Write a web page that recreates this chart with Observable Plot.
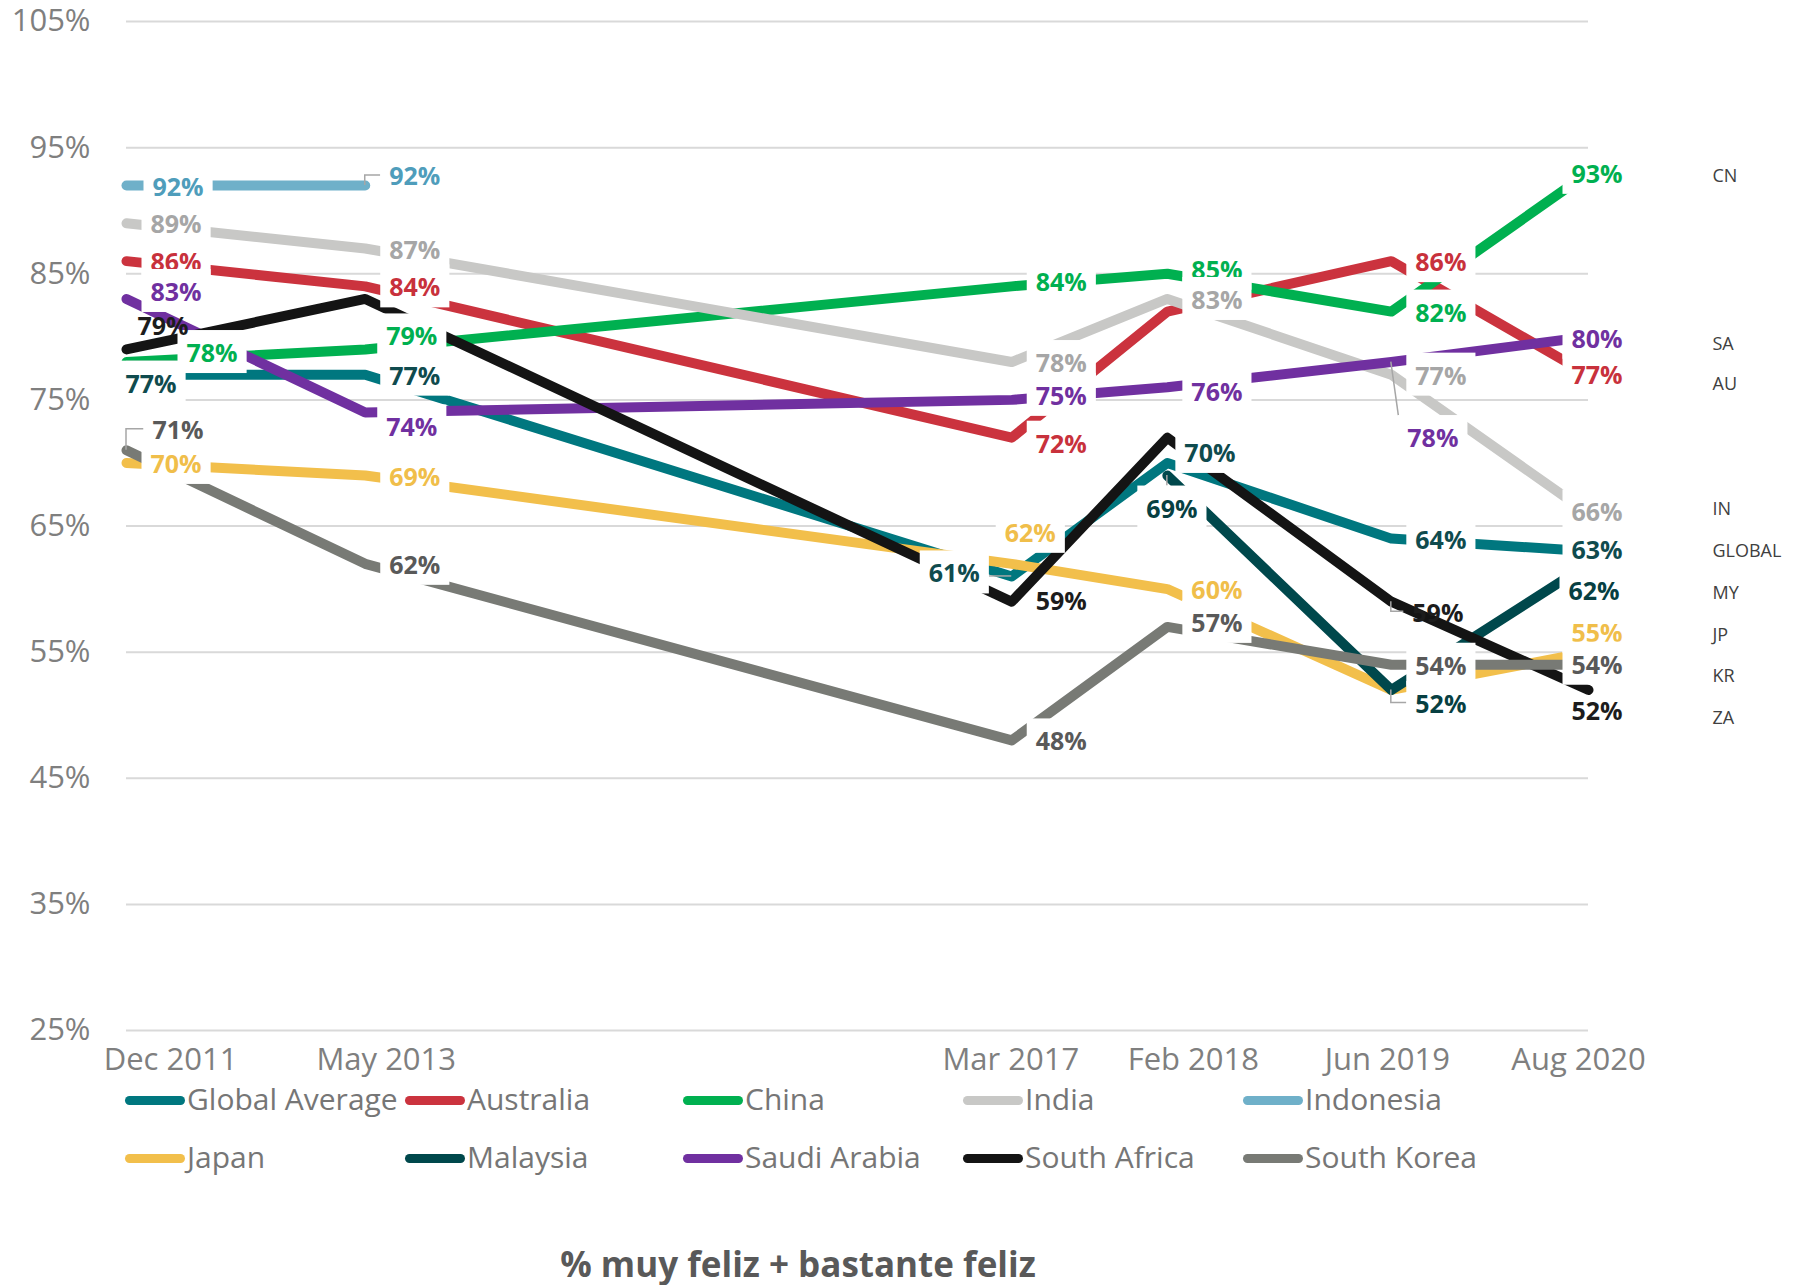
<!DOCTYPE html>
<html>
<head>
<meta charset="utf-8">
<script src="https://cdn.jsdelivr.net/npm/d3@7"></script>
<script src="https://cdn.jsdelivr.net/npm/@observablehq/plot@0.6"></script>
<style>
  html, body { margin: 0; padding: 0; background: #fff; }
  #wrap { position: relative; width: 1804px; height: 1285px; overflow: hidden; font-family: "Open Sans", sans-serif; }
  #chart { position: absolute; left: 0; top: 0; }
  #chart svg { display: block; }
  .item { position: absolute; display: flex; align-items: flex-start; font-size: 30px; color: #767676; white-space: nowrap; line-height: 41px; }
  .sw { width: 60px; height: 9px; border-radius: 5px; margin-top: 18px; margin-right: 2px; }
  #title { position: absolute; left: 0; width: 1596px; top: 1240px; text-align: center; font-size: 35px; font-weight: 700; color: #595959; }
</style>
</head>
<body>
<div id="wrap">
  <div id="chart"></div>
  <div id="legend"></div>
  <div id="title">% muy feliz + bastante feliz</div>
</div>
<script>
// ---------------- DATA ----------------
const dates = ["2011-12-01", "2013-05-01", "2017-03-01", "2018-02-01", "2019-06-01", "2020-08-01"].map(d => new Date(d));
const tickLabels = ["Dec 2011", "May 2013", "Mar 2017", "Feb 2018", "Jun 2019", "Aug 2020"];
const yTicks = [25, 35, 45, 55, 65, 75, 85, 95, 105];

const seriesNames = ["Global Average", "Australia", "China", "India", "Indonesia", "Japan", "Malaysia", "Saudi Arabia", "South Africa", "South Korea"];
const globalAverage = [77, 77, 61, 70, 64, 63];
const australia     = [86, 84, 72, 82, 86, 77];
const china         = [78, 79, 84, 85, 82, 93];
const india         = [89, 87, 78, 83, 77, 66];
const indonesia     = [92, 92, null, null, null, null];
const japan         = [70, 69, 62, 60, 52, 55];
const malaysia      = [null, null, null, 69, 52, 62];
const saudiArabia   = [83, 74, 75, 76, 78, 80];
const southAfrica   = [79, 83, 59, 72, 59, 52];
const southKorea    = [71, 62, 48, 57, 54, 54];
const seriesValues = [globalAverage, australia, china, india, indonesia, japan, malaysia, saudiArabia, southAfrica, southKorea];

const codes = ["CN", "SA", "AU", "IN", "GLOBAL", "MY", "JP", "KR", "ZA"];
const codeSeries = ["China", "Saudi Arabia", "Australia", "India", "Global Average", "Malaysia", "Japan", "South Korea", "South Africa"];

// ---------------- STYLE / LAYOUT ----------------
const lineColors  = ["#00777f", "#cb333e", "#00b050", "#c8c8c6", "#6fb0c9", "#f2bf4b", "#00484c", "#7030a0", "#141414", "#787a75"];
const labelColors = ["#0f4b4e", "#c8313c", "#00b050", "#a6a6a6", "#4f9dbb", "#f0be4a", "#073f42", "#7030a0", "#1c1c1c", "#595959"];

const LABEL_DX = 24, LABEL_DX_LAST = -17, LABEL_DY = 2;
const labelTweaks = {
  "Global Average": {0: {dx: -1, dy: 10}, 2: {dx: -83, dy: -2, leader: "straight"}, 3: {dx: 17, dy: -9}, 5: {dy: 0}},
  "Australia": {2: {dy: 7}, 3: {hide: true}, 5: {dy: 1}},
  "China": {0: {dx: 60, dy: -8, leader: "straight"}, 1: {dx: 21, dy: -12}, 2: {dy: -3}, 3: {dy: -3}},
  "India": {5: {dy: 0}},
  "Indonesia": {0: {dx: 26, dy: 3}, 1: {dy: -8, leader: "bracket"}},
  "Japan": {2: {dx: -7, dy: -30}, 4: {hide: true}, 5: {dy: -18}},
  "Malaysia": {3: {dx: -21, dy: 34, leader: "straight"}, 4: {dy: 15, leader: "bracket"}, 5: {dx: -20, dy: 28}},
  "Saudi Arabia": {0: {dy: -6}, 1: {dx: 21, dy: 16}, 2: {dy: -3}, 3: {dy: 6}, 4: {dx: 16, dy: 77, leader: "straight"}, 5: {dy: 3}},
  "South Africa": {0: {dx: 11, dy: -22}, 1: {hide: true}, 2: {dy: 0}, 3: {hide: true}, 4: {dx: 21, dy: 12, leader: "bracket"}, 5: {dy: 22}},
  "South Korea": {0: {dx: 26, dy: -19, leader: "bracket"}, 3: {dy: -3}, 5: {dy: 1}}
};
const noBox = new Set(["South Africa"]);
const CODE_DX = 124;
const codeDy = [3, 7, 10, -4, 0, 29, -17, 11, 28];
const xTickDx = [44, 21, -1, 26, -4, -10];
const legendLeft = [125, 405, 683, 963, 1243];
const legendTop = [1078, 1136];

// ---------------- BUILD ----------------
const rows = seriesNames.flatMap((s, k) => seriesValues[k].map((v, i) => ({series: s, date: dates[i], value: v, i})))
  .filter(d => d.value != null);

const labelSpecs = [];
seriesNames.forEach((s, k) => {
  seriesValues[k].forEach((v, i) => {
    if (v == null) return;
    const t = (labelTweaks[s] || {})[i] || {};
    if (t.hide) return;
    labelSpecs.push({
      series: s, k, i, date: dates[i], value: v,
      dx: t.dx ?? (i === dates.length - 1 ? LABEL_DX_LAST : LABEL_DX),
      dy: t.dy ?? LABEL_DY,
      leader: t.leader || false,
      box: !noBox.has(s)
    });
  });
});

const labelMarks = labelSpecs.map(sp => Plot.text([sp], {
  x: "date", y: "value", text: d => d.value + "%",
  dx: sp.dx, dy: sp.dy, textAnchor: "start",
  fill: labelColors[sp.k], fontSize: 25, fontWeight: 700
}));

const codeMarks = codes.map((c, j) => {
  const k = seriesNames.indexOf(codeSeries[j]);
  const last = dates.length - 1;
  return Plot.text([{date: dates[last], value: seriesValues[k][last], code: c}], {
    x: "date", y: "value", text: "code", dx: CODE_DX, dy: codeDy[j],
    textAnchor: "start", fill: "#404040", fontSize: 18
  });
});

const chart = Plot.plot({
  width: 1804,
  height: 1080,
  marginTop: 21,
  marginBottom: 50,
  marginLeft: 126,
  marginRight: 216,
  x: {type: "utc", domain: [dates[0], dates[dates.length - 1]]},
  y: {domain: [25, 105]},
  color: {domain: seriesNames, range: lineColors},
  style: {fontFamily: "'Open Sans', sans-serif", color: "#7f7f7f", background: "white", overflow: "visible"},
  marks: [
    Plot.gridY(yTicks, {stroke: "#d9d9d9", strokeOpacity: 1, strokeWidth: 2}),
    Plot.axisY(yTicks, {tickFormat: d => d + "%", tickSize: 0, tickPadding: 36, fontSize: 31, label: null}),
    Plot.axisX(dates, {tickFormat: d => tickLabels[dates.findIndex(t => +t === +d)], tickSize: 0, tickPadding: 17, fontSize: 31, label: null}),
    Plot.line(rows, {x: "date", y: "value", z: "series", stroke: "series", strokeWidth: 10, strokeLinecap: "round", strokeLinejoin: "round"}),
    ...labelMarks,
    ...codeMarks
  ]
});
document.getElementById("chart").append(chart);

// ---------------- POST: label boxes, leader lines, tick nudges ----------------
const ns = "http://www.w3.org/2000/svg";
const xs = chart.scale("x"), ys = chart.scale("y");
const svgRect = chart.getBoundingClientRect();

chart.querySelectorAll('g[aria-label="x-axis tick label"] text').forEach((node, j) => {
  node.setAttribute("transform", (node.getAttribute("transform") || "") + ` translate(${xTickDx[j] || 0},0)`);
});

// text-mark groups in render order: data labels first, then the code labels
const textGroups = Array.from(chart.querySelectorAll(':scope > g')).filter(g => g.getAttribute("aria-label") === "text");
const labelGroups = textGroups.slice(0, labelSpecs.length);
const leaderG = document.createElementNS(ns, "g");
leaderG.setAttribute("aria-label", "leaders");
if (labelGroups.length) labelGroups[0].parentNode.insertBefore(leaderG, labelGroups[0]);

labelGroups.forEach((g, k) => {
  const sp = labelSpecs[k];
  const text = g.querySelector("text");
  if (!text || !sp) return;
  const bb = text.getBBox();
  if (sp.box) {
    const rect = document.createElementNS(ns, "rect");
    rect.setAttribute("x", bb.x - 9);
    rect.setAttribute("y", bb.y - 5);
    rect.setAttribute("width", bb.width + 18);
    rect.setAttribute("height", bb.height + 9);
    rect.setAttribute("fill", "white");
    rect.setAttribute("stroke", "none");
    const tr = text.getAttribute("transform");
    if (tr) rect.setAttribute("transform", tr);
    text.parentNode.insertBefore(rect, text);
  }
  if (sp.leader) {
    const r = text.getBoundingClientRect();
    const bx0 = r.left - svgRect.left - 9, bx1 = r.right - svgRect.left + 9;
    const by0 = r.top - svgRect.top - 5, by1 = r.bottom - svgRect.top + 4;
    const px = xs.apply(sp.date), py = ys.apply(sp.value);
    let d;
    if (sp.leader === "bracket" && px < bx0) {
      const my = (by0 + by1) / 2;
      d = `M${px},${py}V${my}H${bx0}`;
    } else {
      const tx = Math.max(bx0, Math.min(px, bx1));
      const ty = Math.max(by0, Math.min(py, by1));
      d = `M${px},${py}L${tx},${ty}`;
    }
    const path = document.createElementNS(ns, "path");
    path.setAttribute("d", d);
    path.setAttribute("fill", "none");
    path.setAttribute("stroke", "#a6a6a6");
    path.setAttribute("stroke-width", 1.5);
    leaderG.appendChild(path);
  }
});

// ---------------- LEGEND ----------------
const legend = document.getElementById("legend");
seriesNames.forEach((s, k) => {
  const col = k % 5, row = Math.floor(k / 5);
  const item = document.createElement("div");
  item.className = "item";
  item.style.left = legendLeft[col] + "px";
  item.style.top = legendTop[row] + "px";
  const sw = document.createElement("span");
  sw.className = "sw";
  sw.style.background = lineColors[k];
  const tx = document.createElement("span");
  tx.textContent = s;
  item.append(sw, tx);
  legend.append(item);
});
</script>
</body>
</html>
